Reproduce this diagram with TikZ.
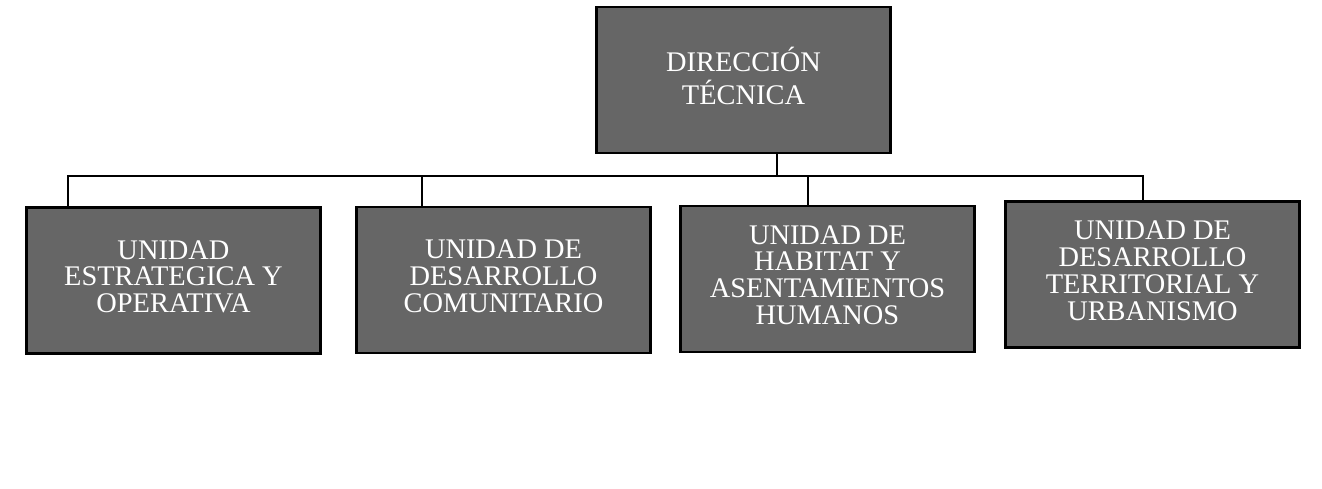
\documentclass[tikz,border=0pt]{standalone}
\usepackage{fontspec}
\setmainfont{Liberation Serif}
\usepackage{tikz}
\usetikzlibrary{positioning, calc}
\tikzstyle{unitbox}=[rectangle,draw=black,line width=1.2pt,fill=black!60,
    text=white,align=center,minimum width=147pt,minimum height=73pt,
    font=\fontsize{14.2}{13.4}\selectfont]
\tikzstyle{headbox}=[unitbox]
\tikzstyle{linkpath}=[draw=black,line width=0.9pt]
\newcommand{\boxlines}[2]{\raisebox{#1}{\begin{tabular}{@{}c@{}}#2\end{tabular}}}

\begin{document}
\begin{tikzpicture}[x=0.5pt,y=-0.5pt]
    \useasboundingbox (0,0) rectangle (1322,488);
    \node[headbox] (dir) at (743.5,80)
        {\renewcommand{\arraystretch}{1.08}\boxlines{5pt}{DIRECCIÓN\\TÉCNICA}};

    \node[unitbox] (u1) at (173.5,280.5) {\boxlines{1.5pt}{UNIDAD\\ESTRATEGICA Y\\OPERATIVA}};
    \node[unitbox] (u2) at (503.5,280) {\boxlines{1.5pt}{UNIDAD DE\\DESARROLLO\\COMUNITARIO}};
    \node[unitbox] (u3) at (827.5,279) {\boxlines{2pt}{UNIDAD DE\\HABITAT Y\\ASENTAMIENTOS\\HUMANOS}};
    \node[unitbox] (u4) at (1152.5,274.5) {\boxlines{1.5pt}{UNIDAD DE\\DESARROLLO\\TERRITORIAL Y\\URBANISMO}};

    \coordinate (bus) at (777,176);
    \draw[linkpath] (dir.south -| bus) -- (bus);
    \draw[linkpath] (bus) -| ([xshift=-52.75pt]u1.north);
    \draw[linkpath] (bus) -| ([xshift=-40.75pt]u2.north);
    \draw[linkpath] (bus) -| ([xshift=-9.75pt]u3.north);
    \draw[linkpath] (bus) -| ([xshift=-4.75pt]u4.north);
\end{tikzpicture}
\end{document}
